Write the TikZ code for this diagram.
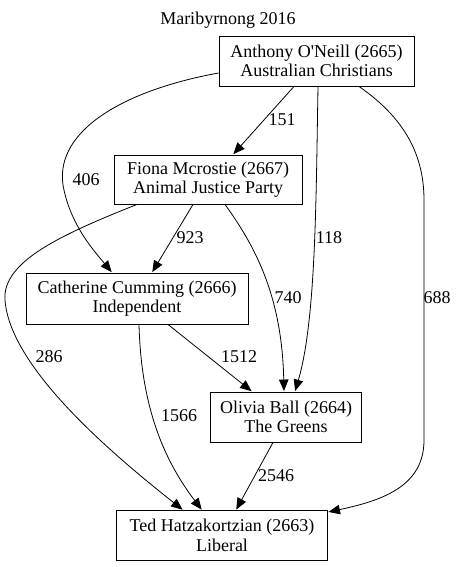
\documentclass[tikz,border=0pt]{standalone}
\usepackage{fontspec}
\setmainfont{Liberation Serif}
\usetikzlibrary{arrows.meta}
\tikzset{
  box/.style={draw, rectangle, inner sep=0pt, align=center, font=\fontsize{18}{19.5}\selectfont, line width=0.9pt},
  lbl/.style={inner sep=0pt, font=\fontsize{18}{19.5}\selectfont},
  edge/.style={-{Triangle[length=11.5pt,width=9.5pt]}, line width=0.8pt, shorten >=0.5pt},
}
\begin{document}
\begin{tikzpicture}[x=1pt,y=-1pt]
\useasboundingbox (0,0) rectangle (457,567);
\node[lbl] (title) at (228,20) {Maribyrnong 2016};
\node[box, minimum width=195pt, minimum height=50pt] (ant) at (316.5,61) {Anthony O\textquotesingle Neill (2665)\\Australian Christians};
\node[box, minimum width=188pt, minimum height=49pt] (fio) at (208,179.5) {Fiona Mcrostie (2667)\\Animal Justice Party};
\node[box, minimum width=222pt, minimum height=51pt] (cat) at (137,298.5) {Catherine Cumming (2666)\\Independent};
\node[box, minimum width=151pt, minimum height=50pt] (oli) at (286,417) {Olivia Ball (2664)\\The Greens};
\node[box, minimum width=211pt, minimum height=50pt] (ted) at (222,535.5) {Ted Hatzakortzian (2663)\\Liberal};

% Anthony -> Fiona
\draw[edge] ([xshift=-22.5]ant.south) -- ([xshift=25]fio.north);
\node[lbl] (l151) at (282,120) {151};
% Anthony -> Catherine
\draw[edge] ([yshift=-12]ant.west) .. controls (125,90) and (55,130) .. (63,185)
  .. controls (70,225) and (95,252) .. ([xshift=-25]cat.north);
\node[lbl] (l406) at (86,180) {406};
% Anthony -> Olivia
\draw[edge] ([xshift=1.5]ant.south) .. controls (316,200) and (316,320) .. ([xshift=9]oli.north);
\node[lbl] (l118) at (329,238) {118};
% Anthony -> Ted
\draw[edge] ([xshift=42.5]ant.south) .. controls (400,115) and (424,150) .. (424,200)
  -- (424,440) .. controls (424,485) and (385,500) .. ([yshift=-2]ted.north east);
\node[lbl] (l688) at (437,298) {688};
% Fiona -> Catherine
\draw[edge] ([xshift=-15]fio.south) -- ([xshift=15]cat.north);
\node[lbl] (l923) at (190,238) {923};
% Fiona -> Olivia
\draw[edge] ([xshift=17]fio.south) .. controls (258,250) and (282,300) .. ([xshift=-2]oli.north);
\node[lbl] (l740) at (288,298) {740};
% Fiona -> Ted
\draw[edge] ([xshift=-71]fio.south) .. controls (60,235) and (2,262) .. (5,300)
  .. controls (10,370) and (120,460) .. ([xshift=-39]ted.north);
\node[lbl] (l286) at (49,357) {286};
% Catherine -> Olivia
\draw[edge] ([xshift=31]cat.south) -- ([xshift=-34]oli.north);
\node[lbl] (l1512) at (239,357) {1512};
% Catherine -> Ted
\draw[edge] ([xshift=2]cat.south) .. controls (141,400) and (160,455) .. ([xshift=-20]ted.north);
\node[lbl] (l1566) at (179,416) {1566};
% Olivia -> Ted
\draw[edge] ([xshift=-13]oli.south) -- ([xshift=14]ted.north);
\node[lbl] (l2546) at (276,476) {2546};
\end{tikzpicture}
\end{document}
